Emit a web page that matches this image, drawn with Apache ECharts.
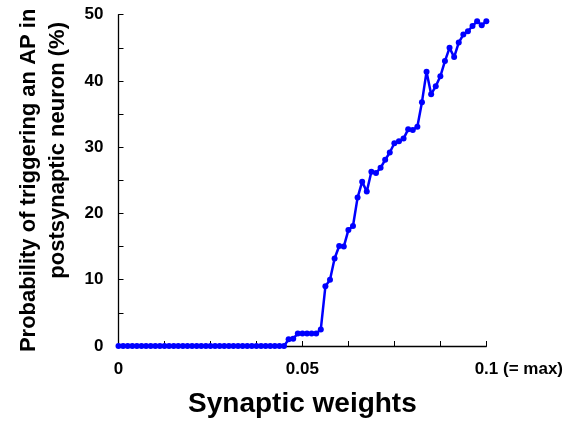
<!DOCTYPE html>
<html>
<head>
<meta charset="utf-8">
<script src="https://cdn.jsdelivr.net/npm/echarts@6/dist/echarts.min.js"></script>
<style>
html,body{margin:0;padding:0;background:#fff;}
#chart{width:566px;height:423px;}
</style>
</head>
<body>
<div id="chart"></div>
<script>
const weights = [0, 0.00125, 0.0025, 0.00375, 0.005, 0.00625, 0.0075, 0.00875, 0.01, 0.01125,
  0.0125, 0.01375, 0.015, 0.01625, 0.0175, 0.01875, 0.02, 0.02125, 0.0225, 0.02375,
  0.025, 0.02625, 0.0275, 0.02875, 0.03, 0.03125, 0.0325, 0.03375, 0.035, 0.03625,
  0.0375, 0.03875, 0.04, 0.04125, 0.0425, 0.04375, 0.045, 0.04625, 0.0475, 0.04875,
  0.05, 0.05125, 0.0525, 0.05375, 0.055, 0.05625, 0.0575, 0.05875, 0.06, 0.06125,
  0.0625, 0.06375, 0.065, 0.06625, 0.0675, 0.06875, 0.07, 0.07125, 0.0725, 0.07375,
  0.075, 0.07625, 0.0775, 0.07875, 0.08, 0.08125, 0.0825, 0.08375, 0.085, 0.08625,
  0.0875, 0.08875, 0.09, 0.09125, 0.0925, 0.09375, 0.095, 0.09625, 0.0975, 0.09875, 0.1];

const probability = [0, 0, 0, 0, 0, 0, 0, 0, 0, 0,
  0, 0, 0, 0, 0, 0, 0, 0, 0, 0,
  0, 0, 0, 0, 0, 0, 0, 0, 0, 0,
  0, 0, 0, 0, 0, 0, 0, 1.0, 1.1, 1.9,
  1.9, 1.9, 1.9, 1.9, 2.5, 9.0, 10.0, 13.2, 15.1, 15.0,
  17.5, 18.1, 22.4, 24.8, 23.3, 26.3, 26.1, 26.9, 28.1, 29.2,
  30.6, 30.9, 31.3, 32.7, 32.6, 33.1, 36.8, 41.4, 38.0, 39.2,
  40.7, 43.0, 45.0, 43.6, 45.8, 47.0, 47.5, 48.3, 49.0, 48.4, 49.0];

const xTickValues = [0, 0.05, 0.1];
const xTickTexts = ['0', '0.05', '0.1 (= max)'];
const yTickValues = [0, 10, 20, 30, 40, 50];

const xTitle = 'Synaptic weights';
const yTitleLines = ['Probability of triggering an AP in', 'postsynaptic neuron (%)'];

const FONT = '"Liberation Sans", Arial, sans-serif';
const chart = echarts.init(document.getElementById('chart'), null, {renderer: 'canvas'});

const seriesData = weights.map((w, i) => [w, probability[i]]);

chart.setOption({
  animation: false,
  backgroundColor: '#ffffff',
  grid: {left: 118.5, right: 78.8, top: 14.7, bottom: 77, containLabel: false},
  xAxis: {
    type: 'value',
    min: 0, max: 0.1, interval: 0.0125,
    name: xTitle,
    nameLocation: 'middle',
    nameGap: 44,
    nameTextStyle: {fontFamily: FONT, fontSize: 28, fontWeight: 'bold', color: '#000'},
    axisLine: {show: true, lineStyle: {color: '#000', width: 1.3}},
    axisTick: {show: true, inside: true, length: 5, lineStyle: {color: '#000', width: 1}},
    splitLine: {show: false},
    axisLabel: {
      margin: 15,
      fontFamily: FONT, fontSize: 17, fontWeight: 'bold', color: '#000',
      formatter: function (v) {
        for (let k = 0; k < xTickValues.length; k++) {
          if (Math.abs(v - xTickValues[k]) < 1e-9) {
            const t = xTickTexts[k];
            const sp = t.indexOf(' ');
            if (sp > 0) {
              return '{a|' + t.slice(0, sp) + '}{b|' + t.slice(sp) + '}';
            }
            return t;
          }
        }
        return '';
      },
      rich: {
        a: {fontFamily: FONT, fontSize: 17, fontWeight: 'bold', color: '#000', padding: [0, 0, 0, 65]},
        b: {fontFamily: FONT, fontSize: 17, fontWeight: 'bold', color: '#000'}
      }
    }
  },
  yAxis: {
    type: 'value',
    min: 0, max: 50, interval: 5,
    name: '{a|' + yTitleLines[0] + '}\n{b|' + yTitleLines[1] + '}',
    nameLocation: 'middle',
    nameRotate: 90,
    nameGap: 46,
    nameTextStyle: {
      fontFamily: FONT, fontSize: 22, fontWeight: 'bold', color: '#000', lineHeight: 29,
      rich: {
        a: {fontFamily: FONT, fontSize: 22, fontWeight: 'bold', color: '#000', lineHeight: 29},
        b: {fontFamily: FONT, fontSize: 22, fontWeight: 'bold', color: '#000', lineHeight: 29, padding: [0, 0, 0, 60]}
      }
    },
    axisLine: {show: true, lineStyle: {color: '#000', width: 1.3}},
    axisTick: {show: true, inside: true, length: 5, lineStyle: {color: '#000', width: 1}},
    splitLine: {show: false},
    axisLabel: {
      margin: 15,
      fontFamily: FONT, fontSize: 17, fontWeight: 'bold', color: '#000',
      formatter: function (v) {
        return yTickValues.indexOf(Math.round(v * 1000) / 1000) >= 0 ? String(v) : '';
      }
    }
  },
  series: [{
    type: 'line',
    data: seriesData,
    symbol: 'circle',
    symbolSize: 6,
    showAllSymbol: true,
    clip: false,
    lineStyle: {color: '#0000ff', width: 2.5},
    itemStyle: {color: '#0000ff'}
  }]
});
</script>
</body>
</html>
